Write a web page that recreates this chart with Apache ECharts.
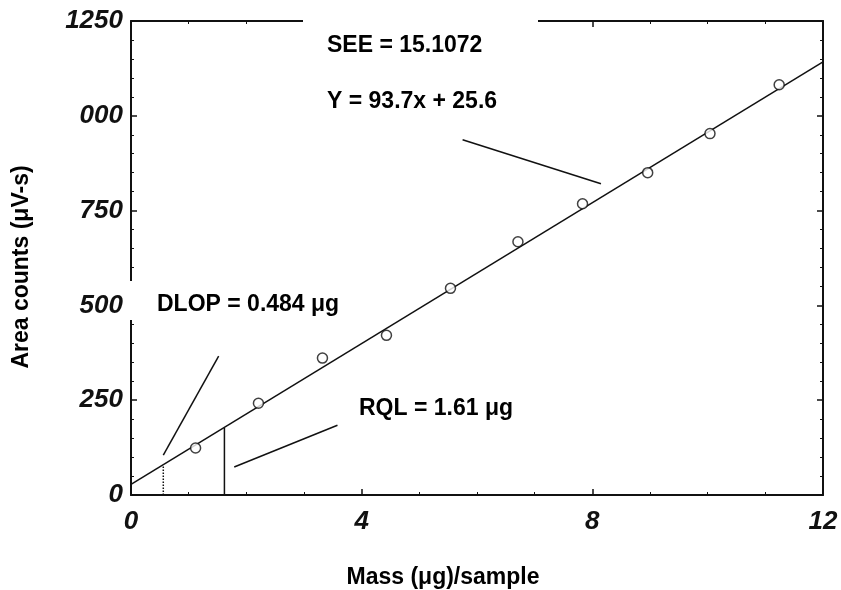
<!DOCTYPE html>
<html>
<head>
<meta charset="utf-8">
<script src="https://cdn.jsdelivr.net/npm/echarts@6/dist/echarts.min.js"></script>
<style>html,body{margin:0;padding:0;background:#fff}#c{width:841px;height:590px}</style>
</head>
<body>
<div id="c"></div>
<script>
// ---- data ----
const massX = [1.12, 2.21, 3.32, 4.43, 5.54, 6.71, 7.83, 8.96, 10.04, 11.24];
const areaY = [124, 242, 361, 421, 545, 668, 768, 850, 953, 1082];
const fitLine = [[0, 28], [12, 1142]];
const dlopLine = [[0.56, 0], [0.56, 78]];
const rqlLine = [[1.62, 0], [1.62, 177]];
const seePointer = [[5.75, 937], [8.15, 821]];
const dlopPointer = [[0.56, 105], [1.52, 366]];
const rqlPointer = [[1.79, 74], [3.58, 184]];
const xTickLabels = {0: '0', 4: '4', 8: '8', 12: '12'};
const yTickLabels = {0: '0', 250: '250', 500: '500', 750: '750', 1000: '000', 1250: '1250'};
const annotations = ['SEE = 15.1072', 'Y = 93.7x + 25.6', 'DLOP = 0.484 μg', 'RQL = 1.61 μg'];
const xTitle = 'Mass (μg)/sample';
const yTitle = 'Area counts (μV-s)';

const FONT = '"Liberation Sans", Arial, sans-serif';
const INK = '#111';
const chart = echarts.init(document.getElementById('c'), null, {renderer: 'canvas'});

function axisBase(extra) {
  return Object.assign({
    type: 'value',
    axisLine: {show: true, onZero: false, lineStyle: {color: INK, width: 2}},
    axisTick: {show: true, inside: true, length: 6, lineStyle: {color: INK, width: 1.5}},
    minorTick: {show: true, length: 3, lineStyle: {color: INK, width: 1}},
    splitLine: {show: false},
    minorSplitLine: {show: false}
  }, extra);
}
const tickFont = {color: INK, fontFamily: FONT, fontWeight: 'bold', fontStyle: 'italic', fontSize: 26};

const pts = massX.map((x, i) => [x, areaY[i]]);
function lineSeries(data, type, width, xi) {
  return {
    type: 'line', data: data, symbol: 'none', silent: true, animation: false,
    lineStyle: {color: INK, width: width || 1.5, type: type || 'solid'}, z: 3
  };
}

const option = {
  animation: false,
  backgroundColor: '#fff',
  grid: {left: 131, right: 18, top: 21, bottom: 95},
  xAxis: [
    axisBase({min: 0, max: 12, interval: 4, position: 'bottom',
      minorTick: {show: true, splitNumber: 4, length: 3, lineStyle: {color: INK, width: 1}},
      axisLabel: Object.assign({margin: 14, formatter: v => xTickLabels[v] ?? ''}, tickFont)}),
    axisBase({min: 0, max: 12, interval: 4, position: 'top',
      minorTick: {show: true, splitNumber: 4, length: 3, lineStyle: {color: INK, width: 1}},
      axisLabel: {show: false}})
  ],
  yAxis: [
    axisBase({min: 0, max: 1250, interval: 250, position: 'left',
      minorTick: {show: true, splitNumber: 5, length: 3, lineStyle: {color: INK, width: 1}},
      axisLabel: Object.assign({margin: 8, formatter: v => yTickLabels[v] ?? ''}, tickFont)}),
    axisBase({min: 0, max: 1250, interval: 250, position: 'right',
      minorTick: {show: true, splitNumber: 5, length: 3, lineStyle: {color: INK, width: 1}},
      axisLabel: {show: false}})
  ],
  series: [
    lineSeries(fitLine, 'solid', 1.5),
    lineSeries(dlopLine, 'dotted', 1.5),
    lineSeries(rqlLine, 'solid', 1.5),
    lineSeries(seePointer, 'solid', 1.5),
    lineSeries(dlopPointer, 'solid', 1.5),
    lineSeries(rqlPointer, 'solid', 1.5),
    {
      type: 'scatter', data: pts, symbol: 'circle', symbolSize: 10, z: 5,
      itemStyle: {color: '#fff', borderColor: INK, borderWidth: 1.5}
    }
  ],
  graphic: [
    {type: 'rect', shape: {x: 303, y: 8, width: 235, height: 22}, style: {fill: '#fff'}, z: 100},
    {type: 'rect', shape: {x: 126, y: 281, width: 230, height: 39}, style: {fill: '#fff'}, z: 100},
    {type: 'text', x: 327, y: 46, z: 101, style: {text: annotations[0], font: 'bold 23px ' + FONT, fill: '#000', verticalAlign: 'middle'}},
    {type: 'text', x: 327, y: 102, z: 101, style: {text: annotations[1], font: 'bold 23px ' + FONT, fill: '#000', verticalAlign: 'middle'}},
    {type: 'text', x: 157, y: 305, z: 101, style: {text: annotations[2], font: 'bold 23px ' + FONT, fill: '#000', verticalAlign: 'middle'}},
    {type: 'text', x: 359, y: 409, z: 101, style: {text: annotations[3], font: 'bold 23px ' + FONT, fill: '#000', verticalAlign: 'middle'}},
    {type: 'text', x: 443, y: 578, z: 101, style: {text: xTitle, font: 'bold 23px ' + FONT, fill: '#000', align: 'center', verticalAlign: 'middle'}},
    {type: 'text', x: 22, y: 267, rotation: Math.PI / 2, z: 101, style: {text: yTitle, font: 'bold 23px ' + FONT, fill: '#000', align: 'center', verticalAlign: 'middle'}}
  ]
};
chart.setOption(option);
</script>
</body>
</html>
